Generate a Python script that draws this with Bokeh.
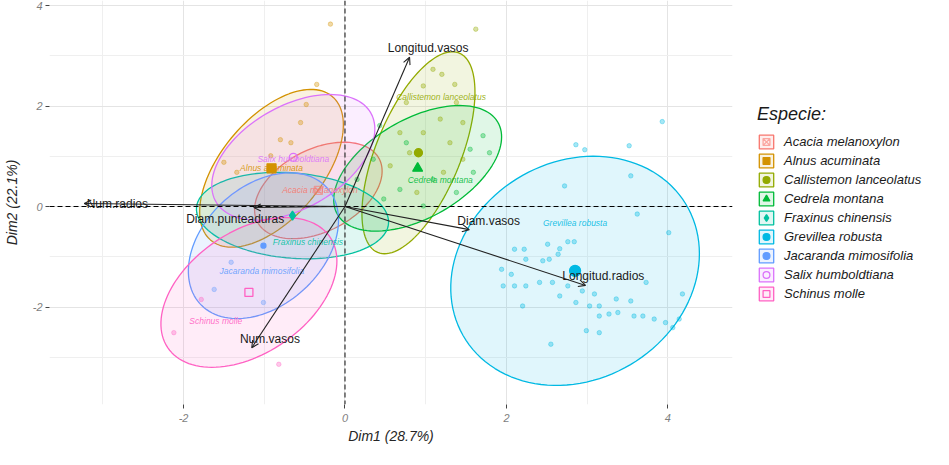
import numpy as np
from bokeh.plotting import figure
from bokeh.layouts import row
from bokeh.models import (ColumnDataSource, Range1d, FixedTicker, Span, Arrow,
                          OpenHead, Legend, LegendItem)
from bokeh.embed import file_html
from bokeh.resources import INLINE
from bokeh.core.properties import value

# ---------------- data ----------------
species = ["Acacia melanoxylon", "Alnus acuminata", "Callistemon lanceolatus",
           "Cedrela montana", "Fraxinus chinensis", "Grevillea robusta",
           "Jacaranda mimosifolia", "Salix humboldtiana", "Schinus molle"]
colors = ["#F8766D", "#D39200", "#93AA00", "#00BA38", "#00C19F",
          "#00B9E3", "#619CFF", "#DB72FB", "#FF61C3"]
markers = ["square_x", "square", "circle", "triangle", "diamond",
           "circle", "circle", "circle", "square"]
marker_sizes = [8, 9, 8, 10, 9, 11, 5, 8, 8]
marker_filled = [False, True, True, True, True, True, True, False, False]

# group means (ellipse centres) and confidence-ellipse parameters
ell_cx = [-0.33, -0.91, 0.91, 0.90, -0.65, 2.85, -1.01, -0.64, -1.19]
ell_cy = [0.32, 0.76, 1.07, 0.76, -0.18, -1.28, -0.78, 0.98, -1.71]
ell_sx = [0.79, 0.89, 0.70, 1.04, 1.19, 1.54, 0.93, 1.01, 1.09]
ell_sy = [0.96, 1.57, 2.01, 1.25, 0.86, 2.28, 1.45, 1.25, 1.49]
ell_rho = [0.40, 0.55, 0.60, 0.50, -0.15, 0.15, 0.35, 0.45, 0.42]

# group label positions
lab_x = [-0.31, -0.91, 1.19, 1.18, -0.46, 2.85, -1.03, -0.64, -1.60]
lab_y = [0.32, 0.76, 2.17, 0.52, -0.70, -0.32, -1.29, 0.94, -2.27]

# individuals
ind_group = (["Grevillea robusta"] * 49 + ["Callistemon lanceolatus"] * 17 +
             ["Cedrela montana"] * 13 + ["Alnus acuminata"] * 9 +
             ["Schinus molle"] * 3 + ["Jacaranda mimosifolia"] * 3)
ind_x = [3.54, 2.72, 3.62, 4.01, 2.10, 2.22, 2.51, 2.66, 2.76, 2.84, 1.94, 2.06,
         2.24, 2.45, 2.53, 2.64, 1.96, 2.10, 2.24, 2.41, 2.57, 2.76, 2.94, 3.09,
         2.66, 2.20, 3.03, 3.15, 3.36, 3.54, 3.73, 4.18, 3.15, 3.27, 3.38, 3.58,
         3.69, 3.83, 3.97, 4.14, 4.06, 2.99, 3.15, 2.55, 2.86, 3.93, 2.86, 2.97, 3.52,
         1.09, 1.20, 1.36, 0.97, 0.76, 1.38, 1.18, 1.46, 0.68, 0.97, 1.30, 0.80,
         1.46, 0.56, 1.22, 0.89, 1.62,
         0.43, 1.71, 0.76, 1.55, 0.35, 1.09, 1.59, 0.15, 0.68, 1.38, 0.48, 0.97, 1.79,
         -0.35, -0.48, -0.55, -0.80, -0.67, -0.92, -1.50, -1.34, -0.18,
         -2.12, -0.82, -1.78,
         -1.41, -1.62, -1.01]
ind_y = [0.61, 0.41, -0.15, -0.52, -0.85, -0.85, -0.75, -0.84, -0.70, -0.70, -1.25, -1.35,
         -1.05, -1.08, -1.05, -0.95, -1.58, -1.58, -1.58, -1.51, -1.51, -1.58, -1.68, -1.74,
         -1.78, -1.98, -1.98, -1.98, -1.84, -1.88, -1.51, -1.74, -2.18, -2.14, -2.11, -2.18,
         -2.18, -2.24, -2.31, -2.24, -2.41, -2.47, -2.51, -2.74, -1.91, 1.69, 1.23, 1.13, 1.21,
         2.73, 2.63, 2.43, 2.40, 2.07, 2.07, 1.74, 1.67, 1.47, 1.47, 1.27, 1.07,
         0.94, 0.81, 0.68, 0.28, 3.53,
         1.61, 1.41, 1.27, 1.14, 0.94, 0.54, 0.68, 0.54, 0.34, 0.28, 0.15, 0.01, 1.07,
         2.43, 2.03, 1.67, 1.33, 1.27, 1.01, 0.88, 0.68, 3.63,
         -2.51, -3.14, -1.85,
         -1.11, -1.65, -1.91]

# variables (arrows)
var_names = ["Longitud.vasos", "Num.vasos", "Longitud.radios",
             "Diam.vasos", "Diam.punteaduras", "Num.radios"]
var_x = [0.80, -1.155, 2.98, 1.54, -1.13, -3.23]
var_y = [2.97, -2.81, -1.57, -0.46, -0.02, 0.06]
var_lab_x = [1.03, -0.93, 3.20, 1.78, -1.36, -2.82]
var_lab_y = [3.16, -2.63, -1.39, -0.28, -0.24, 0.06]

x_ticks = [-2, 0, 2, 4]
x_minor = [-3, -1, 1, 3]
y_ticks = [-2, 0, 2, 4]
y_minor = [-3, -1, 1, 3]

FONT = "Liberation Sans"

# ---------------- main figure ----------------
p = figure(width=741, height=449, output_backend="svg", toolbar_location=None,
           x_range=Range1d(-3.66, 4.80), y_range=Range1d(-3.94, 4.10),
           min_border_left=47, min_border_right=9, min_border_top=0,
           min_border_bottom=45)
p.outline_line_color = None
p.background_fill_color = "white"

for g, tk, mn in ((p.xgrid, x_ticks, x_minor), (p.ygrid, y_ticks, y_minor)):
    g.ticker = FixedTicker(ticks=tk, minor_ticks=mn)
    g.grid_line_color = "#E4E4E4"
    g.minor_grid_line_color = "#EFEFEF"

p.xaxis.ticker = FixedTicker(ticks=x_ticks, minor_ticks=x_minor)
p.yaxis.ticker = FixedTicker(ticks=y_ticks, minor_ticks=y_minor)
for ax, tk in ((p.xaxis, x_ticks), (p.yaxis, y_ticks)):
    ax.major_label_overrides = {v: str(v) for v in tk}
    ax.axis_line_color = None
    ax.major_tick_line_color = "#444444"
    ax.major_tick_out = 4
    ax.major_tick_in = 0
    ax.minor_tick_out = 0
    ax.minor_tick_in = 0
    ax.major_label_text_font = FONT
    ax.major_label_text_font_style = "italic"
    ax.major_label_text_font_size = "11px"
    ax.major_label_text_color = "#7F7F7F"
    ax.axis_label_text_font = FONT
    ax.axis_label_text_font_style = "italic"
    ax.axis_label_text_font_size = "14px"
    ax.axis_label_text_color = "#262626"
p.xaxis.axis_label = "Dim1 (28.7%)"
p.yaxis.axis_label = "Dim2 (22.1%)"
p.xaxis.major_label_standoff = 5
p.xaxis.axis_label_standoff = 3
p.yaxis.major_label_standoff = 3
p.yaxis.axis_label_standoff = 10

# reference lines
p.add_layout(Span(location=0, dimension="width", line_color="black",
                  line_dash="5 3", line_width=1.2))
p.add_layout(Span(location=0, dimension="height", line_color="#333333",
                  line_dash="5 3", line_width=1.2))

t = np.linspace(0, 2 * np.pi, 120)
ell_x, ell_y = [], []
for i, sp in enumerate(species):
    cx, cy, sx, sy, r = ell_cx[i], ell_cy[i], ell_sx[i], ell_sy[i], ell_rho[i]
    ex = cx + sx * np.cos(t)
    ey = cy + sy * (r * np.cos(t) + np.sqrt(1 - r * r) * np.sin(t))
    ell_x.append(ex)
    ell_y.append(ey)
    p.patch(ex, ey, fill_color=colors[i], fill_alpha=0.12,
            line_color=colors[i], line_width=1.3)

# individuals
ind_col = [colors[species.index(g)] for g in ind_group]
p.scatter(ind_x, ind_y, size=4.5, color=ind_col, alpha=0.35)

# group means
for i, sp in enumerate(species):
    p.scatter([ell_cx[i]], [ell_cy[i]], marker=markers[i],
              size=marker_sizes[i], line_color=colors[i],
              fill_color=colors[i] if marker_filled[i] else "white",
              fill_alpha=1.0 if marker_filled[i] else 0.0,
              line_width=1.3, line_alpha=0.6 if i == 0 else 1.0)

# group labels
p.text(lab_x, lab_y, text=species, text_color=colors, text_font=value(FONT),
       text_font_style="italic", text_font_size="8.5px", text_align="center",
       text_baseline="middle", text_alpha=0.9)

# variable arrows
asrc = ColumnDataSource(dict(x0=[0] * len(var_x), y0=[0] * len(var_y),
                             x1=var_x, y1=var_y))
p.add_layout(Arrow(source=asrc, x_start="x0", y_start="y0", x_end="x1", y_end="y1",
                   line_color="#222222", line_width=1.1,
                   end=OpenHead(size=7, line_color="#222222", line_width=1.1)))
p.text(var_lab_x, var_lab_y, text=var_names, text_color="#1A1A1A",
       text_font=value(FONT), text_font_size="12px", text_align="center",
       text_baseline="middle")

# ---------------- legend panel ----------------
q = figure(width=192, height=449, output_backend="svg", toolbar_location=None,
           x_range=Range1d(-3.66, 4.80), y_range=Range1d(-3.94, 4.10),
           min_border_left=0, min_border_right=0, min_border_top=0,
           min_border_bottom=0)
q.axis.visible = False
q.grid.visible = False
q.outline_line_color = None

items = []
for i, sp in enumerate(species):
    pr = q.patch(ell_x[i], ell_y[i], fill_color=colors[i], fill_alpha=0.12,
                 line_color=colors[i], line_width=1.3, visible=False)
    mr = q.scatter([ell_cx[i]], [ell_cy[i]], marker=markers[i], size=marker_sizes[i],
                   line_color=colors[i],
                   fill_color=colors[i] if marker_filled[i] else "white",
                   fill_alpha=1.0 if marker_filled[i] else 0.0,
                   line_width=1.3, line_alpha=0.6 if i == 0 else 1.0, visible=False)
    items.append(LegendItem(label=sp, renderers=[pr, mr]))

legend = Legend(items=items, title="Especie:", location=(16, 102),
                title_text_font=FONT, title_text_font_style="italic",
                title_text_font_size="18px", title_text_color="#1A1A1A",
                title_standoff=8,
                label_text_font=FONT, label_text_font_style="italic",
                label_text_font_size="13px", label_text_color="#1A1A1A",
                glyph_width=18, glyph_height=17, label_height=17,
                label_standoff=9, spacing=2, padding=0, margin=0,
                border_line_color=None, background_fill_alpha=0,
                inactive_fill_alpha=0)
q.add_layout(legend, "center")

layout = row(p, q, spacing=0)
open("out.html", "w").write(file_html(layout, INLINE))
